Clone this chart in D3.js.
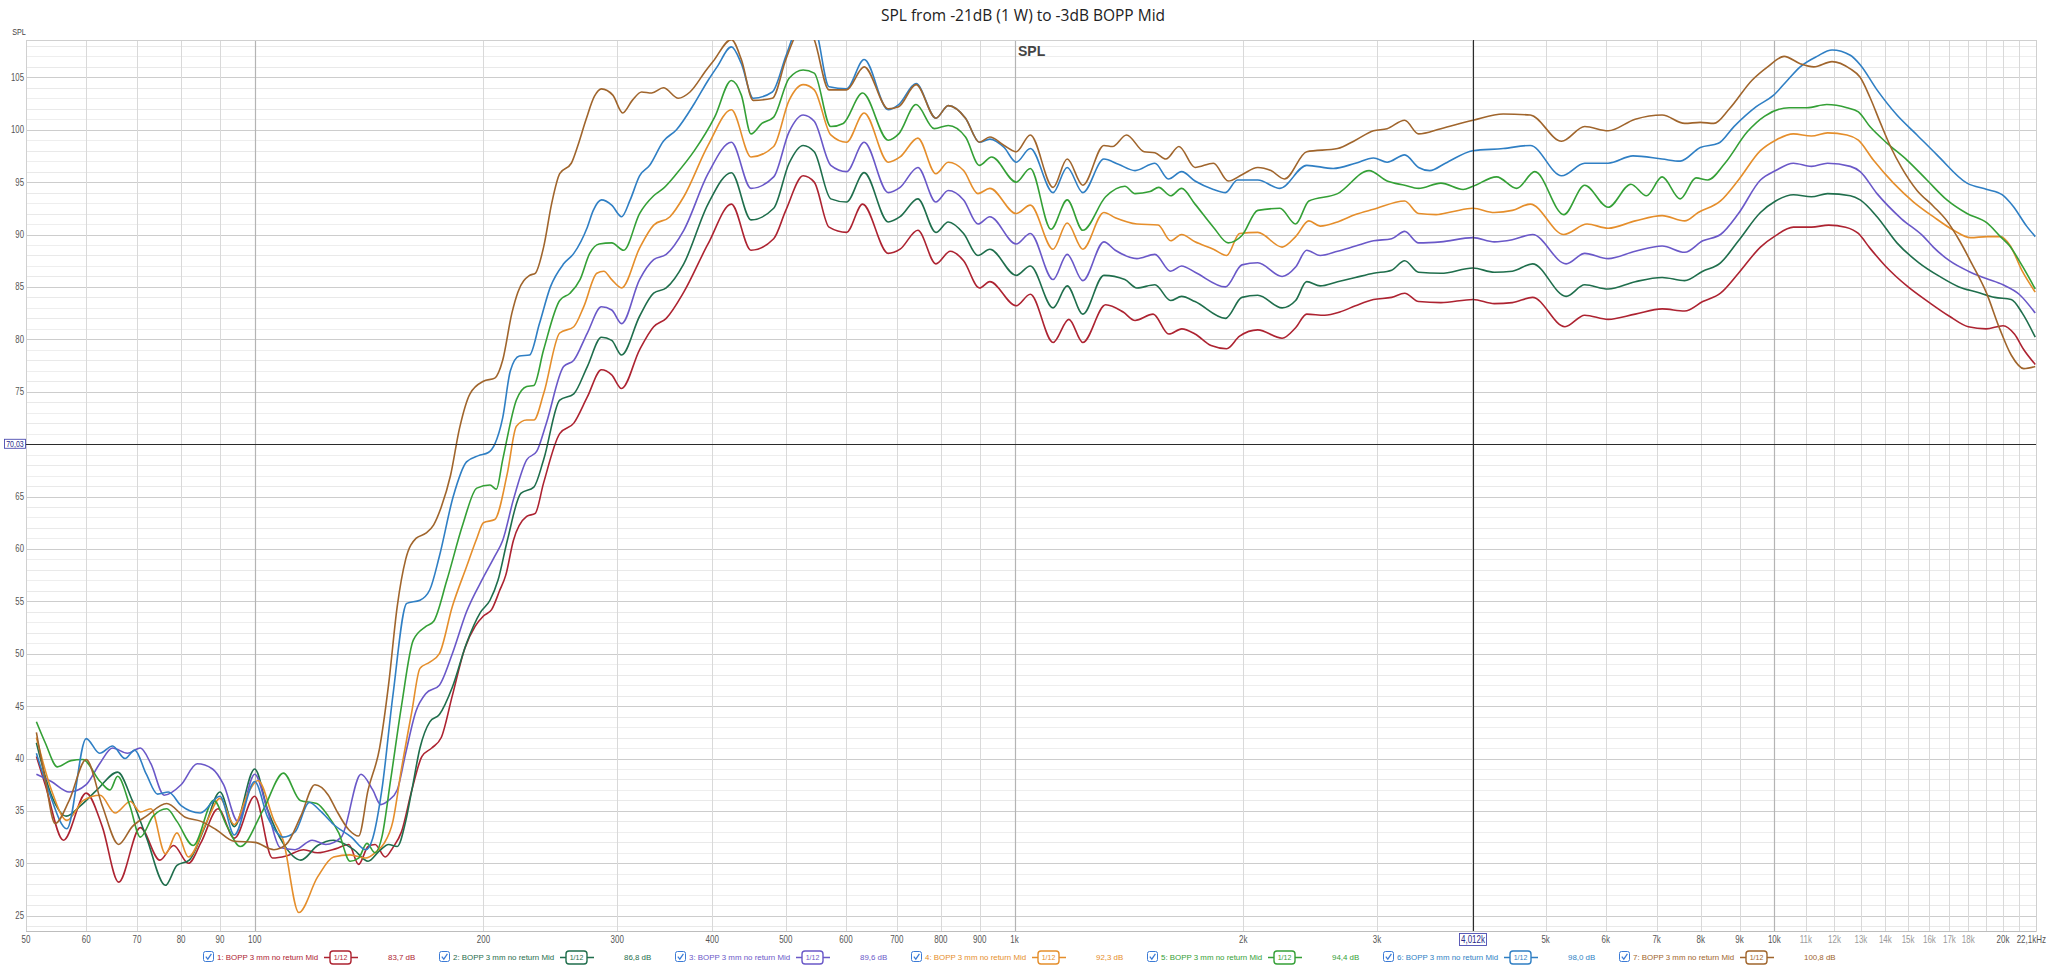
<!DOCTYPE html>
<html><head><meta charset="utf-8">
<script src="https://cdn.jsdelivr.net/npm/d3@7"></script>
<style>
html,body{margin:0;padding:0;background:#fff;}
svg{display:block;}
</style></head>
<body>
<svg id="chart" width="2048" height="965"></svg>
<script>
// ---------------- DATA ----------------
const chartTitle = "SPL from -21dB (1 W) to -3dB BOPP Mid";
const seriesNames = [
  "1: BOPP 3 mm no return Mid","2: BOPP 3 mm no return Mid","3: BOPP 3 mm no return Mid",
  "4: BOPP 3 mm no return Mid","5: BOPP 3 mm no return Mid","6: BOPP 3 mm no return Mid",
  "7: BOPP 3 mm no return Mid"];
const seriesLevels = ["83,7 dB","86,8 dB","89,6 dB","92,3 dB","94,4 dB","98,0 dB","100,8 dB"];
const filterLabel = "1/12";

const yTickValues = [25,30,35,40,45,50,55,60,65,70,75,80,85,90,95,100,105];
const xTickValues = [50,60,70,80,90,100,200,300,400,500,600,700,800,900,1000,2000,3000,5000,6000,7000,8000,9000,10000,11000,12000,13000,14000,15000,16000,17000,18000,20000,22100];
const xTickLabels = ["50","60","70","80","90","100","200","300","400","500","600","700","800","900","1k","2k","3k","5k","6k","7k","8k","9k","10k","11k","12k","13k","14k","15k","16k","17k","18k","20k","22,1kHz"];
const xGridValues = [60,70,80,90,100,200,300,400,500,600,700,800,900,1000,2000,3000,4000,5000,6000,7000,8000,9000,10000,11000,12000,13000,14000,15000,16000,17000,18000,19000,20000,21000];
const cursorFreq = 4012, cursorFreqLabel = "4,012k";
const cursorLevel = 70.03, cursorLevelLabel = "70,03";

const s1 = [[51.6,40.2],[53,37.5],[56,32.2],[60,36.7],[63,33.5],[66.2,28.2],[70.7,33.4],[75,30.3],[78.2,31.7],[81.8,30.0],[85,32.0],[89.5,35.2],[94,32.4],[100,36.4],[105.5,30.5],[110,30.7],[116,31.3],[121,31.0],[128,31.4],[133,31.8],[137,29.9],[141,31.6],[144,31.8],[148.5,30.6],[152,31.5],[156,33],[161,37],[166,40.2],[171,41],[176,42],[182,46],[189,50.5],[195,52.6],[200,53.6],[205,54.2],[210,56],[214,57.5],[219,60.8],[228,63.1],[234,63.4],[240,66.3],[252,71],[263,72],[274,74.5],[286,77.1],[295,76.6],[304,75.3],[321,79],[335,81.2],[348,82],[367,84.5],[395,89.1],[424,92.9],[450,88.5],[482,89.6],[500,92.3],[527,95.6],[545,95.0],[570,90.7],[601,90.2],[631,92.9],[682,88.2],[707,88.6],[746,90.4],[788,87.2],[823,88.4],[857,87.5],[899,84.9],[928,85.5],[1005,83.2],[1049,84.3],[1124,79.7],[1179,81.9],[1230,79.7],[1318,83.3],[1390,82.6],[1441,81.8],[1522,82.4],[1596,80.5],[1660,81.0],[1728,80.5],[1814,79.4],[1902,79.1],[1978,80.3],[2090,80.9],[2250,80.1],[2344,81.1],[2424,82.4],[2560,82.3],[2680,82.6],[2810,83.2],[2968,83.8],[3136,84.0],[3262,84.4],[3402,83.6],[3640,83.5],[4012,83.8],[4280,83.4],[4520,83.5],[4806,84.0],[5302,81.2],[5629,82.3],[6043,81.9],[6560,82.4],[7118,82.9],[7621,82.7],[8050,83.6],[8495,84.4],[8970,86.3],[9588,88.8],[10040,89.9],[10595,90.7],[11190,90.7],[11790,90.9],[12410,90.7],[12900,90.1],[13360,88.7],[14000,87.0],[15000,85.0],[16000,83.5],[17000,82.2],[18000,81.2],[19000,81.0],[20000,81.3],[20700,80.5],[21300,79.0],[22050,77.6]];

const s2 = [[51.6,41.5],[54,36.5],[56.5,34.5],[59,35.5],[62,37],[66,38.7],[69,36],[72,32.5],[76.3,27.9],[79,29.8],[82,30.3],[86,33.5],[90,36.8],[94,33.5],[100,39.0],[104,35.1],[109,31.9],[115,30.3],[121,31.7],[127,32.2],[135,31.3],[141,30.2],[146,31.2],[150,31.8],[154,31.6],[158,34],[161,37],[165,41],[170,43.5],[175,44.2],[182,46.8],[190,51],[198,53.9],[204,55.1],[209,57],[215,60.8],[224,65.3],[233,65.9],[240,68.5],[252,74.2],[263,74.8],[274,77.4],[286,80.2],[295,79.9],[304,78.5],[321,82.2],[335,84.4],[348,84.9],[367,87.2],[395,92.9],[424,95.9],[450,91.4],[482,92.5],[505,96.8],[527,98.5],[545,97.9],[573,93.4],[601,93.1],[634,95.9],[682,91.2],[707,91.7],[746,93.4],[788,90.2],[818,91.2],[857,90.1],[895,88.0],[928,88.6],[1005,86.1],[1049,87.0],[1124,83.0],[1173,85.1],[1230,82.4],[1311,86.1],[1397,85.7],[1449,84.9],[1530,85.2],[1605,83.7],[1659,84.1],[1728,83.6],[1895,82.0],[1992,84.0],[2090,84.2],[2250,83.0],[2344,83.7],[2424,85.5],[2525,85.1],[2662,85.5],[2810,85.9],[2968,86.3],[3136,86.6],[3262,87.5],[3402,86.4],[3640,86.3],[4012,86.8],[4280,86.4],[4520,86.5],[4806,87.2],[5321,84.1],[5629,85.2],[6043,84.8],[6560,85.5],[7118,85.9],[7621,85.6],[8050,86.5],[8495,87.3],[8970,89.4],[9588,92.1],[10040,93.2],[10595,93.8],[11190,93.6],[11750,93.9],[12590,93.7],[12970,93.3],[13650,91.7],[14500,89.2],[15500,87.3],[16500,86.0],[17500,85.0],[18500,84.5],[19500,84.0],[20500,83.8],[21200,82.5],[22050,80.2]];

const s3 = [[51.6,38.5],[54,37.8],[57,36.8],[60,37.5],[62.5,39.5],[65,41.0],[68,40.5],[70.7,41.0],[73,39.5],[76,36.5],[80,37.5],[84,39.5],[88,39.0],[91,37.5],[95,34.0],[100,38.5],[104,35],[108,31.5],[113,31.3],[119,32.2],[124,31.8],[130,32.5],[138,38.5],[143,37],[146.5,35.6],[150,36],[154,37],[158,40.5],[163,44.5],[168,46.2],[175,47],[182,50],[190,54],[200,57.3],[207,59.3],[212,60.8],[219,64.7],[228,68.5],[235,69.3],[242,72],[255,77.4],[263,78],[274,80.6],[286,83.1],[295,82.8],[304,81.5],[321,85.7],[335,87.6],[348,88.1],[367,90.4],[395,95.8],[424,98.8],[450,94.4],[482,95.5],[505,99.8],[527,101.4],[545,100.8],[573,96.6],[601,96.0],[634,98.8],[682,94.0],[707,94.5],[746,96.4],[788,93.1],[818,94.2],[857,93.3],[895,91.0],[928,91.7],[1005,89.1],[1049,90.1],[1124,85.7],[1173,88.1],[1230,85.6],[1311,89.3],[1357,88.5],[1449,87.7],[1530,88.1],[1605,86.5],[1659,87.0],[1728,86.4],[1895,85.0],[1992,87.1],[2090,87.3],[2250,86.0],[2344,86.9],[2424,88.5],[2525,88.0],[2662,88.4],[2810,88.9],[2968,89.4],[3136,89.6],[3262,90.3],[3402,89.2],[3640,89.3],[4012,89.7],[4280,89.3],[4520,89.5],[4806,90.0],[5321,87.2],[5629,88.2],[6043,87.7],[6560,88.4],[7118,88.9],[7621,88.3],[8050,89.4],[8495,90.0],[8970,92.0],[9588,95.2],[10040,96.1],[10595,96.8],[11190,96.5],[11750,96.8],[12590,96.5],[12970,96.0],[13650,93.9],[14700,91.5],[15720,89.8],[16190,88.8],[17000,87.5],[18000,86.5],[19000,85.8],[20000,85.2],[21000,84.3],[22050,82.5]];

const s4 = [[51.6,42.0],[54,37],[56.6,34.1],[59.5,36],[62.6,36.5],[65.5,34.8],[68.6,35.9],[70.7,34.9],[73,35.2],[76.3,30.9],[79,32.9],[81.8,30.6],[86.5,34.0],[90,36.2],[94,33.7],[98,36.7],[101,37.9],[106,34.1],[109,32.2],[114.3,25.3],[121,28.7],[127,30.6],[133.5,30.8],[140,30.5],[145,31.2],[148,31.9],[152,34],[156,39],[161,44.5],[165,48.6],[170,49.2],[175,50],[182,54.5],[190,58.3],[196,61],[200,62.5],[207,62.8],[215,67.2],[221,71.7],[228,72.3],[233,72.3],[240,74.8],[252,80.6],[263,81.2],[271,83.1],[282,86.3],[288,86.5],[295,85.7],[304,84.9],[321,88.7],[335,90.9],[352,91.7],[367,93.6],[395,98.5],[424,101.9],[450,97.4],[482,98.4],[505,102.8],[527,104.3],[545,103.8],[573,99.5],[601,98.8],[634,101.6],[682,96.9],[707,97.4],[746,99.2],[788,95.8],[818,96.9],[857,96.1],[895,93.9],[928,94.4],[1005,92.0],[1049,92.8],[1124,88.6],[1173,91.1],[1230,88.6],[1311,92.1],[1357,91.6],[1449,91.0],[1545,90.9],[1605,89.4],[1659,90.0],[1728,89.3],[1827,88.6],[1902,88.0],[1978,90.1],[2090,90.2],[2250,88.8],[2344,89.8],[2440,91.3],[2525,90.8],[2662,91.2],[2810,91.9],[2968,92.4],[3262,93.2],[3402,92.0],[3588,91.9],[3781,92.2],[4012,92.5],[4280,92.1],[4520,92.3],[4773,92.9],[5284,90.0],[5670,91.0],[6043,90.6],[6560,91.3],[7118,91.8],[7621,91.3],[7940,92.1],[8495,93.2],[8970,95.2],[9588,98.0],[10040,99.0],[10595,99.6],[11190,99.4],[11750,99.7],[12460,99.5],[12900,99.0],[13500,97.1],[14350,94.9],[15250,93.1],[16190,91.7],[17220,90.4],[18120,89.7],[19050,89.8],[19840,89.8],[20410,89.0],[21200,86.5],[22050,84.5]];

const s5 = [[51.6,43.5],[53,41.5],[55,39.2],[57.3,39.8],[59.4,39.9],[62.6,37.8],[64.5,37.0],[66,38.3],[68.5,35.5],[70.7,32.5],[73.5,34.5],[76.6,35.2],[79,34.0],[83,31.7],[88.3,36.0],[92,33.5],[95.7,31.6],[102.6,35.1],[109.1,38.6],[114.8,36.0],[120.7,35.7],[125,34.5],[129,32.9],[133.5,30.2],[137,30.5],[140.5,31.9],[144,31.0],[147,32.5],[151,38],[156,45],[161.7,51.3],[168,52.6],[172,53.1],[179,57],[188,62.4],[196,65.8],[204,66.1],[208,65.7],[212,68.5],[221,74.2],[228,75.5],[233,75.6],[240,79],[252,83.7],[260,84.4],[268,85.7],[276,88.2],[284,89.1],[295,89.2],[306,88.5],[321,92],[335,93.7],[345,94.4],[359,95.8],[379,98],[403,101.2],[424,104.7],[437,103.3],[450,99.6],[465,100.6],[482,101.2],[505,104.9],[527,105.7],[545,105.4],[573,100.3],[595,100.6],[631,103.5],[682,99.0],[704,99.6],[742,102.4],[784,100.1],[818,100.4],[862,99.3],[899,96.6],[933,97.4],[1005,95.0],[1049,96.3],[1117,90.5],[1173,93.3],[1230,90.4],[1318,93.6],[1397,94.6],[1441,93.9],[1508,94.1],[1548,94.5],[1605,93.7],[1659,94.4],[1728,92.9],[1827,90.7],[1911,89.2],[1992,89.9],[2090,92.3],[2235,92.5],[2344,91.0],[2440,93.2],[2662,93.9],[2928,96.1],[3093,95.1],[3262,94.7],[3402,94.4],[3640,94.9],[3894,94.3],[4012,94.6],[4310,95.5],[4582,94.4],[4839,96.0],[5284,91.9],[5629,94.7],[6043,92.6],[6475,94.8],[6788,93.7],[7118,95.5],[7517,93.4],[7887,95.4],[8173,95.2],[8610,96.8],[9214,99.8],[9713,101.3],[10460,102.1],[11040,102.1],[11720,102.4],[12460,102.1],[12900,101.7],[13360,100.3],[14080,98.7],[14950,97.1],[15880,95.2],[16870,93.3],[17930,92.0],[19050,91.1],[19840,89.8],[20410,88.9],[21200,87.0],[22050,84.8]];

const s6 = [[51.6,40.5],[53.5,37],[56.6,33.3],[60,41.9],[62.5,40.5],[65,41.2],[67.5,40.0],[69.5,40.8],[72,38.5],[74.5,36.6],[77,36.8],[80,35.5],[84.8,34.8],[90,36.4],[94,32.7],[100,37.8],[104,34.4],[109,32.5],[113,33.0],[118,35.8],[122,35.0],[127,33.7],[134,32.5],[140,31.3],[143,32.4],[147,37],[152,46],[158.5,54.8],[165,55.1],[170,56.1],[175,59.3],[182.5,65],[190,68.3],[197,68.9],[203,69.2],[207,70],[212,72.5],[217,77],[223,78.4],[230,78.5],[237,81.5],[245,85],[255,87.2],[263,88.2],[274,90.7],[279,92.3],[286,93.3],[295,92.8],[304,91.7],[312,93.3],[321,95.6],[331,96.6],[345,98.9],[359,100.0],[379,102.5],[395,104.7],[406,106.0],[424,107.9],[437,106.3],[453,103.0],[480,103.6],[500,107.0],[515,109.5],[530,110.8],[548,109.5],[570,104.1],[601,103.9],[634,106.7],[682,101.9],[704,102.4],[742,104.4],[788,101.1],[818,102.3],[862,101.1],[899,98.8],[928,99.1],[969,98.3],[1005,96.9],[1049,98.2],[1124,94.0],[1173,96.4],[1230,94.0],[1311,97.2],[1370,96.7],[1441,96.1],[1530,96.8],[1594,95.3],[1659,96.0],[1728,95.1],[1827,94.3],[1895,94.0],[1965,95.2],[2090,95.2],[2235,94.4],[2424,96.6],[2627,96.3],[2810,96.8],[2968,97.3],[3093,96.9],[3262,97.6],[3402,96.4],[3520,96.1],[3690,96.8],[4012,98.0],[4397,98.2],[4773,98.5],[5249,95.6],[5629,96.8],[6043,96.8],[6516,97.5],[7118,97.2],[7517,97.0],[7990,98.3],[8440,98.7],[8848,100.3],[9467,102.2],[9980,103.3],[10400,104.7],[10815,106.0],[11380,107.0],[11910,107.6],[12590,107.1],[12970,106.2],[13650,103.8],[14500,101.4],[15410,99.5],[16370,97.6],[17930,94.9],[19050,94.3],[19940,93.8],[20620,92.7],[21480,90.8],[22050,89.8]];

const s7 = [[51.6,42.5],[53,38],[54.6,33.8],[57,36],[60,39.9],[63,35.5],[66.2,31.8],[69,33.5],[72,34.5],[76.6,35.7],[81,34.4],[85,34.0],[89,33.2],[94,32.1],[100,32.0],[106,31.3],[110,31.8],[115,34.5],[120,37.5],[125,36.5],[128,35.1],[133,33.2],[137,32.6],[141,37],[146,41],[150,47],[154,54.5],[158,59],[163,61],[168,61.5],[172,62.3],[176,64],[181,67],[186,71.5],[192,74.8],[200,76],[207,76.3],[212,78],[218,82.5],[222,84.5],[230,86.1],[234,86.3],[240,88.8],[246,93],[252,95.8],[261,96.8],[266,98.4],[273,101],[280,103.2],[286,103.9],[296,103.3],[305,101.6],[314,102.8],[323,103.6],[333,103.5],[345,104.0],[361,103.0],[374,103.6],[393,105.7],[401,106.5],[424,108.6],[437,106.7],[453,102.8],[480,103.0],[500,106.7],[515,109.0],[530,110.2],[545,108.6],[570,103.8],[601,103.8],[634,106.0],[682,102.0],[704,102.2],[742,104.3],[788,101.1],[818,102.3],[862,101.1],[899,98.8],[928,99.3],[969,98.5],[1005,97.9],[1049,99.5],[1124,94.5],[1173,97.2],[1230,94.7],[1311,98.5],[1346,98.4],[1404,99.5],[1481,97.9],[1530,97.8],[1582,97.2],[1646,98.4],[1728,96.4],[1827,96.8],[1911,95.1],[1992,95.7],[2090,96.4],[2175,96.1],[2266,95.3],[2424,97.9],[2662,98.2],[2810,99.0],[2968,99.9],[3093,100.1],[3262,100.9],[3402,99.6],[3640,100.1],[4012,100.9],[4397,101.5],[4773,101.4],[5249,98.9],[5629,100.3],[6043,99.9],[6560,101.0],[7118,101.4],[7621,100.6],[7990,100.7],[8326,100.6],[8728,102.0],[9340,104.7],[9800,106.0],[10300,107.0],[10815,106.3],[11270,106.0],[11910,106.5],[12590,105.8],[12970,105.0],[13360,103.1],[13800,100.6],[14240,98.3],[14700,96.4],[15410,94.2],[16190,92.7],[16870,91.3],[17500,89.5],[18200,87.2],[19000,84.5],[19800,81.0],[20500,78.5],[21300,77.2],[22050,77.4]];

const seriesData = [s1,s2,s3,s4,s5,s6,s7];

// ---------------- STYLE / LAYOUT ----------------
const colors = ["#ad2331","#1f6e4c","#6a58c8","#e58e2b","#34a036","#2f7fc4","#a0652c"];
const W = 2048, H = 965;
const P = {l:26, r:2036, t:40, b:931};
const tickFont = "'Liberation Sans', Arial, sans-serif";

const svg = d3.select("#chart");
const x = d3.scaleLog().domain([50, 22100]).range([P.l, P.r]);
const y = d3.scaleLinear().domain([23.54, 108.56]).range([P.b, P.t]);
const px = v => Math.round(v) + 0.5;

svg.append("rect").attr("width", W).attr("height", H).attr("fill", "#fff");

// title
svg.append("text").attr("x", 1023).attr("y", 21).attr("text-anchor", "middle")
  .attr("font-family", "'Open Sans', 'Noto Sans', sans-serif").attr("font-size", 15.5)
  .attr("fill", "#222").text(chartTitle);

// horizontal grid (1 dB minor, 5 dB major)
const grid = svg.append("g");
d3.range(24, 109).forEach(v => {
  grid.append("line").attr("x1", P.l).attr("x2", P.r)
    .attr("y1", px(y(v))).attr("y2", px(y(v)))
    .attr("stroke", v % 5 === 0 ? "#cdcdcd" : (v % 2 === 0 ? "#e9e9e9" : "#eeeeee"))
    .attr("stroke-width", 1);
});
// vertical grid
xGridValues.forEach(f => {
  const decade = (f === 100 || f === 1000 || f === 10000);
  grid.append("line").attr("x1", px(x(f))).attr("x2", px(x(f)))
    .attr("y1", P.t).attr("y2", P.b)
    .attr("stroke", decade ? "#b4b4b4" : "#d9d9d9").attr("stroke-width", decade ? 1.2 : 1);
});
// frame
svg.append("rect").attr("x", P.l + 0.5).attr("y", P.t + 0.5)
  .attr("width", P.r - P.l).attr("height", P.b - P.t)
  .attr("fill", "none").attr("stroke", "#d0d0d0");
svg.append("line").attr("x1", P.l).attr("x2", P.r).attr("y1", P.b + 0.5).attr("y2", P.b + 0.5)
  .attr("stroke", "#bdbdbd");

// y labels (the one hidden under the level-cursor box is not drawn)
yTickValues.forEach(v => {
  if (Math.abs(v - cursorLevel) < 1.5) return;
  svg.append("text").attr("transform", `translate(24,${y(v) + 3.5}) scale(0.78,1)`)
    .attr("text-anchor", "end").attr("font-family", tickFont).attr("font-size", 10)
    .attr("fill", "#555").text(v);
});
svg.append("text").attr("transform", `translate(19,35) scale(0.85,1)`)
  .attr("text-anchor", "middle").attr("font-family", tickFont).attr("font-size", 8.5)
  .attr("fill", "#444").text("SPL");

// x labels
xTickValues.forEach((f, i) => {
  const lbl = xTickLabels[i];
  const light = f >= 11000 && f <= 18000;
  const isEnd = i === xTickValues.length - 1;
  svg.append("text")
    .attr("transform", `translate(${isEnd ? 2046 : x(f)},${943}) scale(0.8,1)`)
    .attr("text-anchor", isEnd ? "end" : "middle")
    .attr("font-family", tickFont).attr("font-size", 10)
    .attr("fill", light ? "#9a9a9a" : "#555").text(lbl);
});

// SPL label inside plot
svg.append("text").attr("x", 1018).attr("y", 56)
  .attr("font-family", "'Liberation Sans', Arial, sans-serif").attr("font-weight", "bold")
  .attr("font-size", 14).attr("fill", "#444").text("SPL");

// curves
svg.append("clipPath").attr("id", "plotclip").append("rect")
  .attr("x", P.l).attr("y", P.t).attr("width", P.r - P.l).attr("height", P.b - P.t);
const line = d3.line().x(d => x(d[0])).y(d => y(d[1])).curve(d3.curveMonotoneX);
const curves = svg.append("g").attr("clip-path", "url(#plotclip)");
seriesData.forEach((s, i) => {
  curves.append("path").attr("d", line(s)).attr("fill", "none")
    .attr("stroke", colors[i]).attr("stroke-width", 1.6).attr("stroke-linejoin", "round");
});

// cursors
svg.append("line").attr("x1", P.l).attr("x2", P.r)
  .attr("y1", px(y(cursorLevel))).attr("y2", px(y(cursorLevel)))
  .attr("stroke", "#2b2b2b").attr("stroke-width", 1.1);
svg.append("line").attr("x1", px(x(cursorFreq))).attr("x2", px(x(cursorFreq)))
  .attr("y1", P.t).attr("y2", P.b)
  .attr("stroke", "#2b2b2b").attr("stroke-width", 1.1);
// cursor labels
const cy = y(cursorLevel);
svg.append("rect").attr("x", 4.5).attr("y", cy - 4.5).attr("width", 21).attr("height", 9)
  .attr("fill", "#fff").attr("stroke", "#4b4bb0").attr("stroke-width", 0.9);
svg.append("text").attr("transform", `translate(15,${cy + 3}) scale(0.78,1)`)
  .attr("text-anchor", "middle").attr("font-family", tickFont).attr("font-size", 9)
  .attr("fill", "#2a2a8a").text(cursorLevelLabel);
const cx = x(cursorFreq);
svg.append("rect").attr("x", cx - 13.5).attr("y", 933.5).attr("width", 27).attr("height", 12)
  .attr("fill", "#fff").attr("stroke", "#4b4bb0").attr("stroke-width", 0.9);
svg.append("text").attr("transform", `translate(${cx},${943}) scale(0.8,1)`)
  .attr("text-anchor", "middle").attr("font-family", tickFont).attr("font-size", 10)
  .attr("fill", "#2a2a8a").text(cursorFreqLabel);

// legend
const legend = svg.append("g");
seriesNames.forEach((name, i) => {
  const gx = 203 + i * 236, gy = 957, c = colors[i];
  const g = legend.append("g");
  g.append("rect").attr("x", gx + 0.5).attr("y", gy - 5.5).attr("width", 10).attr("height", 10)
    .attr("rx", 2).attr("fill", "#fff").attr("stroke", "#3c7bd6").attr("stroke-width", 1);
  g.append("path").attr("d", `M${gx + 2.8},${gy - 0.3} L${gx + 4.8},${gy + 2.2} L${gx + 8.4},${gy - 3.2}`)
    .attr("fill", "none").attr("stroke", "#3c7bd6").attr("stroke-width", 1.2);
  g.append("text").attr("x", gx + 14).attr("y", gy + 3)
    .attr("font-family", tickFont).attr("font-size", 7.9).attr("fill", c).text(name);
  // filter icon
  g.append("line").attr("x1", gx + 121).attr("x2", gx + 155).attr("y1", gy + 0.5).attr("y2", gy + 0.5)
    .attr("stroke", c).attr("stroke-width", 1.3);
  g.append("rect").attr("x", gx + 127).attr("y", gy - 6).attr("width", 21).attr("height", 13)
    .attr("rx", 3).attr("fill", "#fff").attr("stroke", c).attr("stroke-width", 1.4);
  g.append("text").attr("x", gx + 137.5).attr("y", gy + 3)
    .attr("text-anchor", "middle")
    .attr("font-family", tickFont).attr("font-size", 7).attr("fill", c).text(filterLabel);
  g.append("text").attr("x", gx + 185).attr("y", gy + 3)
    .attr("font-family", tickFont).attr("font-size", 7.9).attr("fill", c).text(seriesLevels[i]);
});
</script>
</body></html>
